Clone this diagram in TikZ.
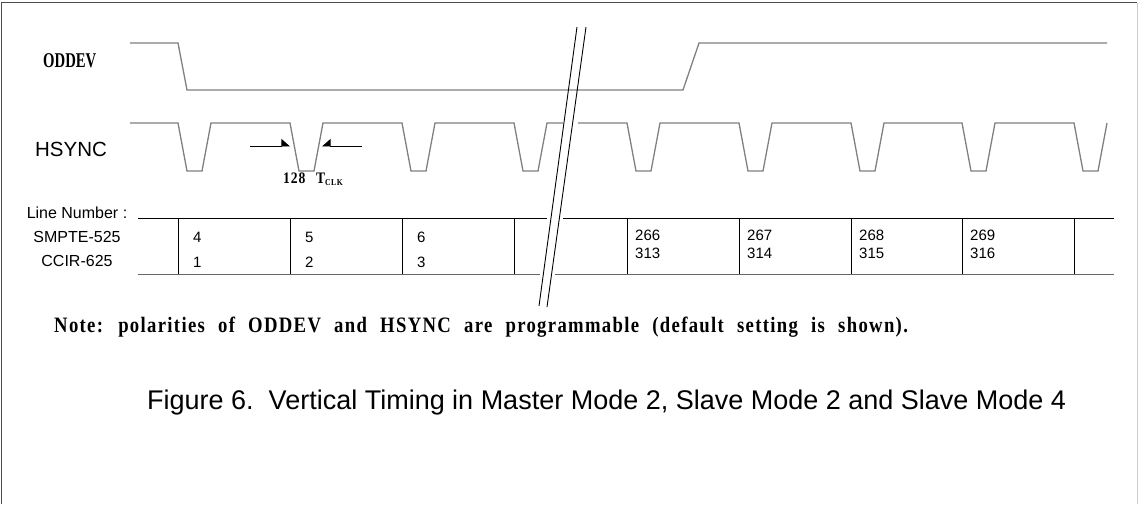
\documentclass[tikz,border=0pt]{standalone}
\usepackage{fontspec}
\usetikzlibrary{arrows.meta}
\setmainfont{Liberation Sans}
\newfontfamily\condfont[FakeStretch=0.7]{Liberation Serif}
\newfontfamily\notefont[FakeStretch=0.85,LetterSpace=6,WordSpace=2.2]{Liberation Serif}
\newcommand*\hsyncup{123}
\newcommand*\hsyncdown{171}
\newcommand*\rowtop{218}
\newcommand*\rowbot{274}
\tikzset{
    sig/.style={draw=black!50, line width=1.3pt},
    tbl/.style={draw=black, line width=0.9pt},
    lbl/.style={inner sep=0pt, font=\fontsize{16}{16}\selectfont},
    cell/.style={inner sep=0pt, anchor=west, font=\fontsize{15}{15}\selectfont},
    dim/.style={draw=black, line width=0.9pt, -{Triangle[harpoon,length=8pt,width=14pt]}},
    mono/.style={inner sep=0pt, anchor=base west, font=\notefont\bfseries\fontsize{#1}{#1}\selectfont}
}
\begin{document}
\begin{tikzpicture}[x=1pt,y=-1pt]
    \useasboundingbox (0,0) rectangle (1138,504);

    % Frame.
    \draw[black!70, line width=1.6pt] (1.5,504) -- (1.5,2.5) -- (1137,2.5);
    \draw[black!20, line width=1pt] (1137,2.5) -- (1137,504);

    % Signal names.
    \node[inner sep=0pt, anchor=base west, font=\condfont\bfseries\fontsize{21}{21}\selectfont] (oddev) at (43,67) {ODDEV};
    \node[inner sep=0pt, font=\fontsize{20.5}{20.5}\selectfont] (hsync) at (71,149.5) {HSYNC};

    % ODDEV waveform.
    \draw[sig] (130,43) -- (178,43) -- (187,90) -- (683,90) -- (699,43) -- (1107,43);

    % HSYNC waveform, both sides of the break.
    \draw[sig] (130,\hsyncup)
        \foreach \s in {178,290,402,514} {
            -- (\s,\hsyncup) -- ++(9,48) -- ++(15,0) -- ++(9,-48)
        } -- (563,\hsyncup);
    \draw[sig] (578,\hsyncup)
        \foreach \s in {627,739,851,962,1074} {
            -- (\s,\hsyncup) -- ++(9,48) -- ++(15,0) -- ++(9,-48)
        };

    % Pulse width marker.
    \coordinate (al) at (250,146);
    \coordinate (ar) at (290,146);
    \coordinate (bl) at (362,146);
    \coordinate (br) at (322,146);
    \draw[dim] (al) -- (ar);
    \draw[dim, -{Triangle[harpoon,swap,length=8pt,width=14pt]}] (bl) -- (br);
    \node[mono=16] (tclk) at (283,183) {128\hspace{1pt} T\raisebox{-2.5pt}{\fontsize{9}{9}\selectfont CLK}};

    % Line number labels.
    \node[lbl] (lnum) at (77,213) {Line Number :};
    \node[lbl] (smpte) at (77,237) {SMPTE-525};
    \node[lbl] (ccir) at (77,261) {CCIR-625};

    % Row lines.
    \draw[tbl] (138,\rowtop) -- (547,\rowtop);
    \draw[tbl] (563,\rowtop) -- (1114,\rowtop);
    \draw[tbl, draw=black!60] (138,\rowbot) -- (540,\rowbot);
    \draw[tbl, draw=black!60] (555,\rowbot) -- (1114,\rowbot);

    % Line dividers.
    \foreach \x in {178,290,402,514,627,739,851,962,1074}
        \draw[tbl] (\x,\rowtop) -- (\x,\rowbot);

    % Line numbers.
    \foreach \x/\a/\b in {178/4/1,290/5/2,402/6/3} {
        \node[cell] (top\a) at (\x+15,237) {\a};
        \node[cell] (bot\b) at (\x+15,262) {\b};
    }
    \foreach \x/\a/\b in {627/266/313,739/267/314,851/268/315,962/269/316} {
        \node[cell] (top\a) at (\x+8,235) {\a};
        \node[cell] (bot\b) at (\x+8,253) {\b};
    }

    % Break marks.
    \draw[black, line width=0.9pt] (577,27) -- (539,306);
    \draw[black, line width=0.9pt] (586,27) -- (547,307);

    % Note and caption.
    \node[mono=22] (note) at (54,332) {Note: polarities of ODDEV and HSYNC are programmable (default setting is shown).};
    \node[inner sep=0pt, anchor=base west, font=\fontsize{27}{27}\selectfont] (caption) at (147,409)
        {Figure 6.\ \ Vertical Timing in Master Mode 2, Slave Mode 2 and Slave Mode 4};
\end{tikzpicture}
\end{document}
